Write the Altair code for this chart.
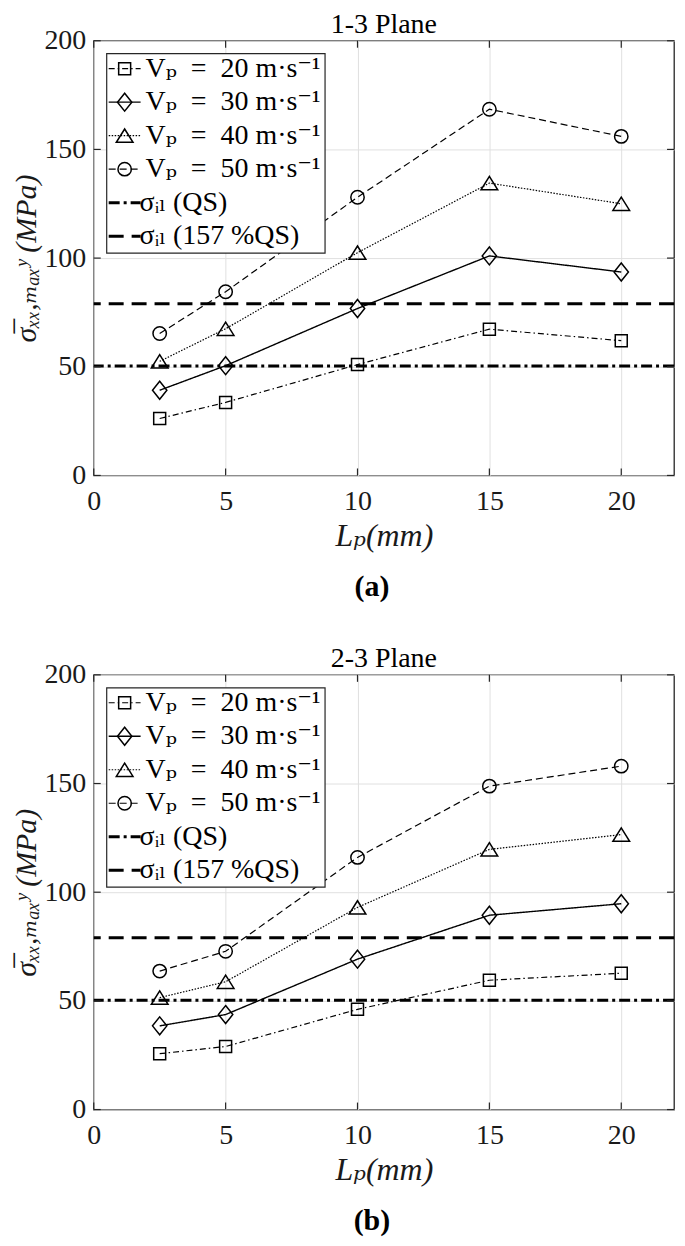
import altair as alt
import pandas as pd

# ---------------- data ----------------
lp_mm = [2.5, 5, 10, 15, 20]
series_keys = ["20", "30", "40", "50"]
series_labels = [
    "Vₚ\u2002=\u200220 m·s⁻¹",
    "Vₚ\u2002=\u200230 m·s⁻¹",
    "Vₚ\u2002=\u200240 m·s⁻¹",
    "Vₚ\u2002=\u200250 m·s⁻¹",
]

plane13_vp20 = [26.2, 33.6, 51.0, 67.3, 62.0]
plane13_vp30 = [39.2, 50.5, 76.8, 101.0, 93.6]
plane13_vp40 = [52.5, 67.5, 102.5, 134.5, 125.0]
plane13_vp50 = [65.3, 84.5, 128.0, 168.5, 156.0]

plane23_vp20 = [25.7, 29.0, 46.1, 59.5, 62.7]
plane23_vp30 = [38.5, 43.7, 69.2, 89.4, 94.7]
plane23_vp40 = [51.5, 58.8, 93.0, 119.7, 126.5]
plane23_vp50 = [63.7, 72.8, 116.0, 148.8, 158.0]

ref_keys = ["QS", "157"]
ref_labels = ["σᵢₗ (QS)", "σᵢₗ (157 %QS)"]
ref_values = [50.3, 79.0]

panel_titles = ["1-3 Plane", "2-3 Plane"]
panel_tags = ["(a)", "(b)"]
x_ticks = [0, 5, 10, 15, 20]
y_ticks = [0, 50, 100, 150, 200]

# ---------------- style ----------------
W, H = 582, 436
FONT = "'Liberation Serif', 'DejaVu Serif', serif"
INK = "#262626"
all_keys = series_keys + ref_keys
dash_range = [[6, 3, 1.5, 3], [1, 0], [1.5, 1.5], [7, 4], [11, 4, 3, 4], [15, 8]]
width_range = [1.2, 1.4, 1.2, 1.2, 3, 3]
shape_range = ["square", "M0,-1L0.8,0L0,1L-0.8,0Z", "M0,-0.8L1,0.8L-1,0.8Z", "circle"]
size_range = [144, 324, 280, 180]


def xenc():
    return alt.X(
        "lp:Q",
        scale=alt.Scale(domain=[0, 22], nice=False, zero=False),
        axis=alt.Axis(values=x_ticks, title="Lₚ(mm)", labelFlush=False, labelOverlap=False,
                      labelPadding=12, titlePadding=5, titleFontStyle="italic", titleFontSize=32),
    )


def yenc():
    return alt.Y(
        "val:Q",
        scale=alt.Scale(domain=[0, 200], nice=False, zero=False),
        axis=alt.Axis(values=y_ticks, title="σ̅ₓₓ,ₘₐₓʸ (MPa)", labelFlush=False, labelOverlap=False,
                      labelPadding=8, titlePadding=2, titleFontStyle="italic", titleFontSize=30),
    )


dash = alt.StrokeDash("key:N", scale=alt.Scale(type="ordinal", domain=all_keys, range=dash_range), legend=None)
swidth = alt.StrokeWidth("key:N", scale=alt.Scale(type="ordinal", domain=all_keys, range=width_range), legend=None)
shp = alt.Shape("key:N", scale=alt.Scale(type="ordinal", domain=series_keys, range=shape_range), legend=None)
sz = alt.Size("key:N", scale=alt.Scale(type="ordinal", domain=series_keys, range=size_range), legend=None)


def panel(i, vals):
    long = pd.DataFrame(
        [{"lp": x, "val": v, "key": k} for k, arr in zip(series_keys, vals) for x, v in zip(lp_mm, arr)]
    )
    refs = pd.DataFrame({"key": ref_keys, "val": ref_values})
    base = alt.Chart(long)

    lines = base.mark_line(color="black").encode(x=xenc(), y=yenc(), strokeDash=dash, strokeWidth=swidth)
    ref_layer = alt.Chart(refs).mark_rule(color="black").encode(y=yenc(), strokeDash=dash, strokeWidth=swidth)
    pts = base.mark_point(filled=False, color="black", strokeWidth=1.5, opacity=1).encode(
        x=xenc(), y=yenc(), shape=shp, size=sz
    )

    leg = pd.DataFrame({"key": all_keys, "label": series_labels + ref_labels, "row": list(range(6))})
    leg_base = alt.Chart(leg).transform_calculate(
        ly="28 + datum.row * 33.6", lx="datum.row < 4 ? 52 : 46"
    )
    box = alt.Chart(pd.DataFrame({"b": [0]})).mark_rect(fill="white", stroke=INK, strokeWidth=1.2).encode(
        x=alt.value(13), x2=alt.value(232), y=alt.value(13), y2=alt.value(213)
    )
    leg_lines = leg_base.mark_rule(color="black").encode(
        x=alt.value(15), x2=alt.value(47), y=alt.Y("ly:Q", scale=None), strokeDash=dash, strokeWidth=swidth
    )
    leg_pts = leg_base.transform_filter("datum.row < 4").mark_point(
        filled=False, color="black", strokeWidth=1.5, opacity=1
    ).encode(x=alt.value(31), y=alt.Y("ly:Q", scale=None), shape=shp, size=sz)
    leg_txt = leg_base.mark_text(align="left", baseline="middle", fontSize=28, font=FONT, color="black").encode(
        x=alt.X("lx:Q", scale=None), y=alt.Y("ly:Q", scale=None), text="label:N"
    )

    tx = alt.Chart(pd.DataFrame({"lp": x_ticks}))
    ty = alt.Chart(pd.DataFrame({"val": y_ticks}))
    tick_style = dict(color=INK, strokeWidth=1.2)
    t_bottom = tx.mark_rule(**tick_style).encode(x=xenc(), y=alt.value(H), y2=alt.value(H - 7))
    t_top = tx.mark_rule(**tick_style).encode(x=xenc(), y=alt.value(0), y2=alt.value(7))
    t_left = ty.mark_rule(**tick_style).encode(y=yenc(), x=alt.value(0), x2=alt.value(7))
    t_right = ty.mark_rule(**tick_style).encode(y=yenc(), x=alt.value(W), x2=alt.value(W - 7))

    ttl = alt.Chart(pd.DataFrame({"t": [panel_titles[i]]})).mark_text(
        fontSize=28, baseline="bottom", align="center", font=FONT, color="black"
    ).encode(x=alt.value(W / 2), y=alt.value(-2), text="t:N")

    return alt.layer(
        lines, ref_layer, pts, box, leg_lines, leg_pts, leg_txt, t_bottom, t_top, t_left, t_right, ttl
    ).properties(
        width=W,
        height=H,
        title=alt.TitleParams(panel_tags[i], orient="bottom", fontSize=30, fontWeight="bold",
                              font=FONT, dx=-12, offset=21, anchor="middle", color="black"),
    )


pa = panel(0, [plane13_vp20, plane13_vp30, plane13_vp40, plane13_vp50])
pb = panel(1, [plane23_vp20, plane23_vp30, plane23_vp40, plane23_vp50])

chart = alt.vconcat(pa, pb, spacing=41, padding={"left": 3, "top": 0, "right": 0, "bottom": 0}).configure_view(
    stroke=INK, strokeWidth=1.3
).configure_axis(
    grid=True, gridColor="#e0e0e0", gridWidth=1, domain=False, ticks=False,
    labelFont=FONT, titleFont=FONT, labelFontSize=28, labelColor="#1a1a1a",
    titleColor="#1a1a1a", titleFontWeight="normal",
)

chart.save("out.html", embed_options={"renderer": "svg", "actions": False})
